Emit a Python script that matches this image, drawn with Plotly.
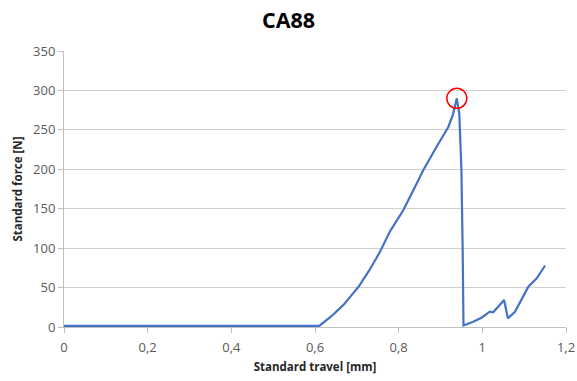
import plotly.graph_objects as go

# Load-displacement record for specimen CA88
travel_mm = [0.0, 0.30, 0.61, 0.64, 0.668, 0.69, 0.704, 0.73, 0.755, 0.78, 0.811,
             0.847, 0.859, 0.89, 0.919, 0.93, 0.939, 0.945, 0.950, 0.953, 0.955,
             0.978, 0.998, 1.018, 1.026, 1.052, 1.061, 1.078, 1.110, 1.130, 1.150]
force_n = [1.3, 1.3, 1.3, 14, 28, 42, 51, 72, 95, 122, 148,
           186, 199, 228, 254, 270, 290, 270, 199, 98, 2,
           6.7, 11.8, 19.4, 18.6, 34.2, 11, 19.4, 51, 61.7, 78]

peak_travel = [0.939]
peak_force = [290]

font_family = "'Open Sans', Lato, sans-serif"
grey_text = "#595959"

fig = go.Figure()
fig.add_trace(go.Scatter(
    x=travel_mm, y=force_n, mode="lines",
    line=dict(color="#4472C4", width=2.2),
    showlegend=False, hoverinfo="skip",
))
fig.add_trace(go.Scatter(
    x=peak_travel, y=peak_force, mode="markers",
    marker=dict(symbol="circle-open", size=20, color="#FF0000",
                line=dict(width=1.5, color="#FF0000")),
    showlegend=False, hoverinfo="skip",
))

fig.update_layout(
    width=577, height=381,
    margin=dict(l=64, r=11, t=51, b=54),
    paper_bgcolor="white", plot_bgcolor="white",
    separators=", ",
    font=dict(family=font_family, size=13, color=grey_text),
    title=dict(text="<b>CA88</b>", x=0.5, xanchor="center", y=0.945, yanchor="middle",
               font=dict(family=font_family, size=21.5, color="#000000")),
)
fig.update_xaxes(
    range=[0, 1.2], dtick=0.2, tick0=0, automargin=False,
    showgrid=False, zeroline=False,
    showline=True, linecolor="#BFBFBF", linewidth=1,
    ticks="outside", ticklen=5, tickcolor="#BFBFBF", ticklabelstandoff=3,
    tickfont=dict(size=13, color=grey_text),
    title=dict(text="<b>Standard travel [mm]</b>", standoff=8,
               font=dict(size=11.5, color="#262626")),
)
fig.update_yaxes(
    range=[0, 350], dtick=50, tick0=0, automargin=False,
    showgrid=True, gridcolor="#D0D0D0", gridwidth=1, zeroline=False,
    showline=True, linecolor="#BFBFBF", linewidth=1,
    ticks="outside", ticklen=5, tickcolor="#BFBFBF",
    tickfont=dict(size=13, color=grey_text),
    title=dict(text="<b>Standard force [N]</b>", standoff=8,
               font=dict(size=11.5, color="#262626")),
)

fig.write_html("out.html")
